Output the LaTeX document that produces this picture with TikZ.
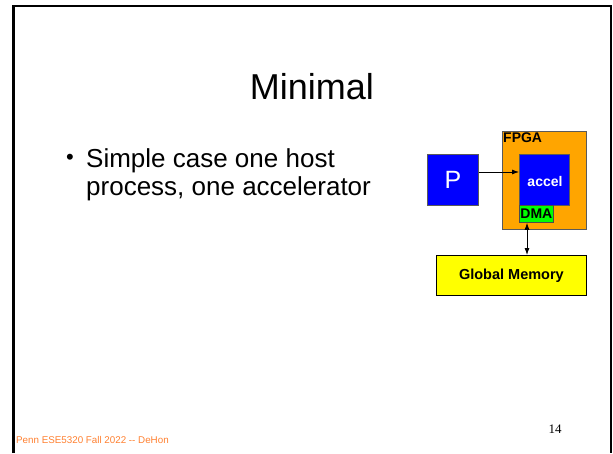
\documentclass[tikz,border=0pt]{standalone}
\usepackage{fontspec}
\setmainfont{Liberation Sans}
\newfontfamily\timesfont{Liberation Serif}
\usetikzlibrary{arrows.meta}
\definecolor{fpgaorange}{RGB}{255,165,0}
\definecolor{hostblue}{RGB}{0,0,255}
\definecolor{dmagreen}{RGB}{0,255,0}
\definecolor{memyellow}{RGB}{255,255,0}
\definecolor{footorange}{RGB}{255,128,48}
\definecolor{edgegray}{RGB}{90,90,90}
\begin{document}
\begin{tikzpicture}[x=1pt,y=-1pt,
  blk/.style={draw=edgegray,line width=0.8pt,inner sep=0pt,anchor=north west},
  lbl/.style={inner sep=0pt,font=\bfseries\fontsize{14}{16}\selectfont},
  bodytext/.style={inner sep=0pt,anchor=base west,font=\fontsize{26}{30}\selectfont},
  link/.style={line width=0.8pt,-{Latex[length=7pt,width=5pt]}},
  biglink/.style={line width=0.8pt,{Latex[length=7pt,width=5pt]}-{Latex[length=7pt,width=5pt]}}]
\useasboundingbox (0,0) rectangle (613,453);
% slide frame
\draw[line width=2.5pt] (13.5,453) -- (13.5,6) -- (611,6) -- (611,453);
% title and bullet text
\node[inner sep=0pt] (title) at (312,87) {\fontsize{36}{40}\selectfont Minimal};
\node[inner sep=0pt,anchor=base west] (bullet) at (66,164) {\fontsize{22}{26}\selectfont\textbullet};
\node[bodytext] (line1) at (86,167) {Simple case one host};
\node[bodytext] (line2) at (86,195) {process, one accelerator};
% diagram
\node[blk,fill=fpgaorange,minimum width=84pt,minimum height=98pt] (fpga) at (502,131) {};
\node[lbl,anchor=north west] (fpgalbl) at (503,133) {FPGA};
\node[blk,fill=hostblue,minimum width=51pt,minimum height=51pt] (host) at (427,154) {};
\node[text=white,inner sep=0pt] (hostlbl) at (host.center) {\fontsize{25}{28}\selectfont P};
\node[blk,fill=hostblue,minimum width=50pt,minimum height=51pt] (accel) at (519,154) {};
\node[lbl,text=white] (accellbl) at (545,181) {accel};
\node[blk,draw=black!70,fill=dmagreen,minimum width=34pt,minimum height=17pt] (dma) at (519,205) {};
\node[lbl] (dmalbl) at (dma.center) {DMA};
\node[blk,draw=black,fill=memyellow,minimum width=150pt,minimum height=40pt] (mem) at (436,255) {};
\node[lbl,font=\bfseries\fontsize{14.5}{16}\selectfont] (memlbl) at (mem.center) {Global Memory};
\draw[link] (host.east |- 0,172) -- (accel.west |- 0,172);
\draw[biglink] (dma.south -| 527,0) -- (mem.north -| 527,0);
% footer
\node[inner sep=0pt,anchor=west,text=footorange] (foot) at (16,440)
  {\fontsize{9.8}{11}\selectfont Penn ESE5320 Fall 2022 -{}- DeHon};
\node[inner sep=0pt] (pagenum) at (555,429) {\timesfont\fontsize{13}{15}\selectfont 14};
\end{tikzpicture}
\end{document}
